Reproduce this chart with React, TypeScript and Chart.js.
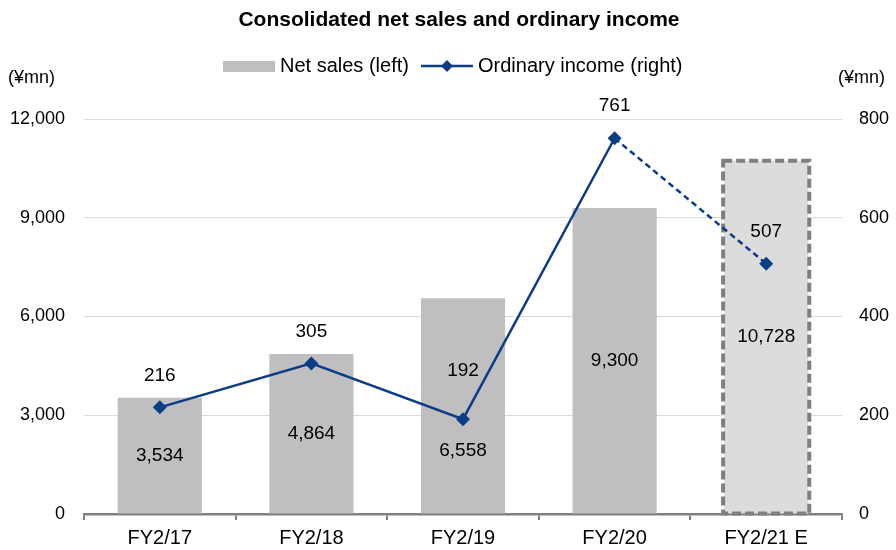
import { useEffect, useRef } from 'react';
import { Chart, registerables } from 'chart.js';

Chart.register(...registerables);

const categories = ['FY2/17', 'FY2/18', 'FY2/19', 'FY2/20', 'FY2/21 E'];
const netSales = [3534, 4864, 6558, 9300, 10728];
const ordinaryIncome = [216, 305, 192, 761, 507];
const leftTicks = [0, 3000, 6000, 9000, 12000];
const rightTicks = [0, 200, 400, 600, 800];

// styling: vertical nudges of value labels (px)
const salesLabelShift = [0, 0, 45, 0, 0];
const incomeLabelShift = [-32, -32, -48, -32, -32];

const FONT = '"Liberation Sans", Arial, sans-serif';
const NAVY = '#0b3d86';
const BAR = '#bfbfbf';
const FORECAST_FILL = '#dcdcdc';
const FORECAST_BORDER = '#7f7f7f';

const fmt = (v: number) => v.toLocaleString('en-US');

const decorPlugin = {
  id: 'decor',
  afterDatasetDraw(chart: any, args: any) {
    if (args.index !== 1) return;
    const meta = chart.getDatasetMeta(1);
    const last = meta.data[meta.data.length - 1];
    if (!last) return;
    const { x, y, base, width } = last.getProps(['x', 'y', 'base', 'width'], true);
    const ctx = chart.ctx;
    ctx.save();
    ctx.strokeStyle = FORECAST_BORDER;
    ctx.lineWidth = 4;
    ctx.setLineDash([9, 4]);
    ctx.strokeRect(x - width / 2 - 1, y, width + 2, base - y);
    ctx.restore();
  },
  afterDatasetsDraw(chart: any) {
    const ctx = chart.ctx;
    ctx.save();
    ctx.fillStyle = '#000';
    ctx.textAlign = 'center';
    ctx.textBaseline = 'middle';
    ctx.font = `19px ${FONT}`;
    const barMeta = chart.getDatasetMeta(1);
    barMeta.data.forEach((el: any, i: number) => {
      const { x, y, base } = el.getProps(['x', 'y', 'base'], true);
      ctx.fillText(fmt(netSales[i]), x, (y + base) / 2 + salesLabelShift[i]);
    });
    const lineMeta = chart.getDatasetMeta(0);
    lineMeta.data.forEach((el: any, i: number) => {
      const { x, y } = el.getProps(['x', 'y'], true);
      ctx.fillText(fmt(ordinaryIncome[i]), x, y + incomeLabelShift[i]);
    });
    ctx.restore();
  },
  afterDraw(chart: any) {
    const ctx = chart.ctx;
    ctx.save();
    ctx.fillStyle = '#000';
    ctx.textBaseline = 'middle';
    // title
    ctx.textAlign = 'center';
    ctx.font = `bold 21px ${FONT}`;
    ctx.fillText('Consolidated net sales and ordinary income', 459, 20);
    // legend
    ctx.fillStyle = BAR;
    ctx.fillRect(223, 61, 52, 11);
    ctx.fillStyle = '#000';
    ctx.textAlign = 'left';
    ctx.font = `20px ${FONT}`;
    ctx.fillText('Net sales (left)', 280, 66);
    ctx.strokeStyle = NAVY;
    ctx.lineWidth = 2.5;
    ctx.beginPath();
    ctx.moveTo(421, 66);
    ctx.lineTo(473, 66);
    ctx.stroke();
    ctx.fillStyle = NAVY;
    ctx.beginPath();
    ctx.moveTo(447, 60);
    ctx.lineTo(453, 66);
    ctx.lineTo(447, 72);
    ctx.lineTo(441, 66);
    ctx.closePath();
    ctx.fill();
    ctx.fillStyle = '#000';
    ctx.fillText('Ordinary income (right)', 478, 66);
    // units
    ctx.font = `18px ${FONT}`;
    ctx.fillText('(¥mn)', 8, 78);
    ctx.fillText('(¥mn)', 838, 78);
    ctx.restore();
  },
};

export default function App() {
  const ref = useRef<HTMLCanvasElement | null>(null);
  useEffect(() => {
    document.body.style.margin = '0';
    if (!ref.current) return;
    const chart = new Chart(ref.current, {
      type: 'bar',
      data: {
        labels: categories,
        datasets: [
          {
            type: 'line',
            label: 'Ordinary income (right)',
            data: ordinaryIncome,
            yAxisID: 'y1',
            borderColor: NAVY,
            backgroundColor: NAVY,
            borderWidth: 2.5,
            pointStyle: 'rectRot',
            pointRadius: 7,
            pointBorderWidth: 0,
            pointBackgroundColor: NAVY,
            tension: 0,
            order: 0,
            segment: {
              borderDash: (c: any) => (c.p1DataIndex === ordinaryIncome.length - 1 ? [6, 4] : undefined),
            },
          } as any,
          {
            type: 'bar',
            label: 'Net sales (left)',
            data: netSales,
            yAxisID: 'y',
            backgroundColor: netSales.map((_, i) => (i === netSales.length - 1 ? FORECAST_FILL : BAR)),
            borderWidth: 0,
            categoryPercentage: 1,
            barPercentage: 0.555,
            order: 1,
          },
        ],
      },
      options: {
        animation: false,
        responsive: true,
        maintainAspectRatio: false,
        layout: { padding: { top: 119, left: 0, right: 0, bottom: 0 } },
        plugins: {
          legend: { display: false },
          title: { display: false },
          tooltip: { enabled: false },
        },
        scales: {
          x: {
            type: 'category',
            offset: true,
            grid: {
              offset: true,
              drawOnChartArea: false,
              drawTicks: true,
              tickLength: 6,
              color: '#808080',
              lineWidth: 2,
            },
            border: { display: true, color: '#808080', width: 2.5 },
            ticks: { color: '#000', font: { family: FONT, size: 20 }, padding: 6 },
            afterFit: (s: any) => {
              s.height = 36;
            },
          },
          y: {
            position: 'left',
            min: leftTicks[0],
            max: leftTicks[leftTicks.length - 1],
            afterBuildTicks: (s: any) => {
              s.ticks = leftTicks.map((v) => ({ value: v }));
            },
            grid: { color: '#d9d9d9', lineWidth: 1, drawTicks: false },
            border: { display: false },
            ticks: {
              color: '#000',
              font: { family: FONT, size: 18 },
              padding: 19,
              callback: (v: any) => fmt(Number(v)),
            },
            afterFit: (s: any) => {
              s.width = 84;
            },
          },
          y1: {
            position: 'right',
            min: rightTicks[0],
            max: rightTicks[rightTicks.length - 1],
            afterBuildTicks: (s: any) => {
              s.ticks = rightTicks.map((v) => ({ value: v }));
            },
            grid: { display: false, drawTicks: false },
            border: { display: false },
            ticks: {
              color: '#000',
              font: { family: FONT, size: 18 },
              padding: 17,
              callback: (v: any) => fmt(Number(v)),
            },
            afterFit: (s: any) => {
              s.width = 54;
            },
          },
        },
      },
      plugins: [decorPlugin],
    });
    return () => chart.destroy();
  }, []);
  return (
    <div style={{ position: 'relative', width: 896, height: 550 }}>
      <canvas ref={ref} />
    </div>
  );
}
